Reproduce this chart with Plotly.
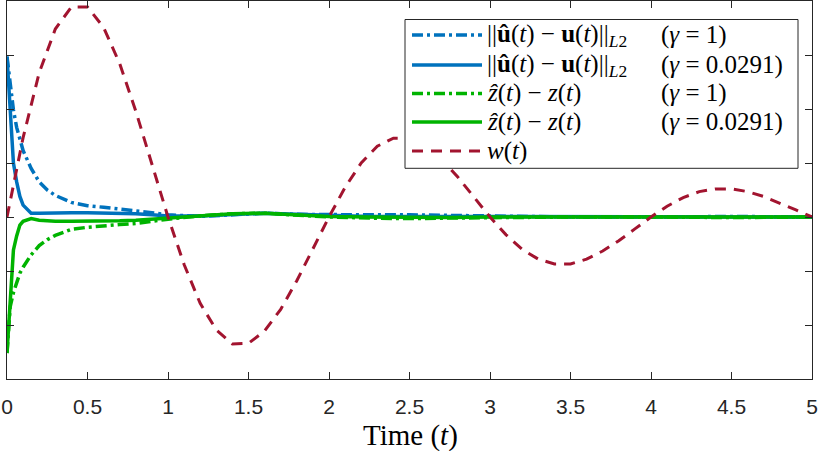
import plotly.graph_objects as go

# sample times for the error curves
t_err = [0, 0.02, 0.04, 0.06, 0.08, 0.1, 0.15, 0.2, 0.25, 0.3, 0.4, 0.5, 0.6, 0.7, 0.8, 0.9,
         1.0, 1.2, 1.4, 1.6, 1.8, 2.0, 2.25, 2.5, 2.75, 3.0, 3.5, 4.0, 4.5, 5.0]

# ||u_hat - u||, gamma = 1 (dash-dot) and gamma = 0.0291 (solid)
u_err_g1 = [2.97, 2.45, 1.98, 1.66, 1.42, 1.23, 0.90, 0.65, 0.50, 0.40, 0.27, 0.21, 0.18, 0.15, 0.12, 0.08,
            0.04, 0.01, 0.04, 0.07, 0.05, 0.04, 0.04, 0.04, 0.03, 0.02, 0.0, 0.0, 0.01, 0.0]
u_err_g0291 = [2.97, 1.98, 1.0, 0.65, 0.38, 0.22, 0.07, 0.07, 0.075, 0.08, 0.08, 0.08, 0.075, 0.07, 0.06, 0.04,
               0.02, 0.02, 0.05, 0.07, 0.05, 0.03, 0.01, 0.01, 0.01, 0.01, 0.0, 0.0, 0.01, 0.0]

# z_hat - z, gamma = 1 (dash-dot) and gamma = 0.0291 (solid)
z_err_g1 = [-2.52, -1.66, -1.40, -1.20, -1.04, -0.93, -0.70, -0.53, -0.42, -0.34, -0.23, -0.19, -0.16, -0.14, -0.12, -0.08,
            -0.04, 0.02, 0.06, 0.07, 0.04, 0.0, -0.02, -0.03, -0.02, -0.01, 0.0, 0.0, -0.01, 0.0]
z_err_g0291 = [-2.52, -1.58, -0.61, -0.35, -0.15, -0.08, -0.03, -0.06, -0.07, -0.08, -0.08, -0.08, -0.08, -0.07, -0.06, -0.04,
               -0.01, 0.03, 0.06, 0.07, 0.04, 0.01, 0.0, -0.01, -0.01, 0.0, 0.0, 0.0, 0.0, 0.0]

# disturbance w(t)
t_w = [0, 0.1, 0.2, 0.3, 0.4, 0.5, 0.6, 0.7, 0.8, 0.9, 1.0, 1.1, 1.2, 1.3, 1.4, 1.5, 1.6, 1.7, 1.8, 1.9,
       2.0, 2.1, 2.2, 2.3, 2.4, 2.5, 2.6, 2.7, 2.8, 2.9, 3.0, 3.1, 3.2, 3.3, 3.4, 3.5, 3.6, 3.7, 3.8, 3.9,
       4.0, 4.1, 4.2, 4.3, 4.4, 4.5, 4.6, 4.7, 4.8, 4.9, 5.0]
w = [0, 1.47, 2.67, 3.48, 3.89, 3.89, 3.51, 2.84, 1.96, 0.98, 0, -0.88, -1.60, -2.09, -2.35, -2.34, -2.11, -1.71, -1.18, -0.59,
     0, 0.55, 1.00, 1.31, 1.46, 1.46, 1.32, 1.07, 0.74, 0.37, 0, -0.33, -0.60, -0.78, -0.87, -0.87, -0.78, -0.63, -0.44, -0.22,
     0, 0.20, 0.36, 0.47, 0.52, 0.52, 0.47, 0.38, 0.26, 0.13, 0]

x_tickvals = [0, 0.5, 1, 1.5, 2, 2.5, 3, 3.5, 4, 4.5, 5]
x_ticktext = ["0", "0.5", "1", "1.5", "2", "2.5", "3", "3.5", "4", "4.5", "5"]

blue = "#0072BD"
green = "#00B300"
red = "#A2142F"
dashdot = "11px,4px,3px,4px"
dashed = "11px,8px"

series = [
    (u_err_g1, t_err, blue, dashdot, 3.5),
    (u_err_g0291, t_err, blue, "solid", 3.5),
    (z_err_g1, t_err, green, dashdot, 3.5),
    (z_err_g0291, t_err, green, "solid", 3.5),
    (w, t_w, red, dashed, 3),
]
norm = "||<b>û</b>(<i>t</i>) − <b>u</b>(<i>t</i>)||<sub><i>L</i>2</sub>"
zdiff = "<i>ẑ</i>(<i>t</i>) − <i>z</i>(<i>t</i>)"
names = [norm, norm, zdiff, zdiff, "<i>w</i>(<i>t</i>)"]
gammas = ["(<i>γ</i> = 1)", "(<i>γ</i> = 0.0291)", "(<i>γ</i> = 1)", "(<i>γ</i> = 0.0291)", ""]

fig = go.Figure()
for (ys, xs, col, dash, lw), nm in zip(series, names):
    fig.add_trace(go.Scatter(x=xs, y=ys, mode="lines", name=nm,
                             line=dict(color=col, dash=dash, width=lw), showlegend=False))

W, H = 822, 451
L, R, T, B = 7, 10, 1, 72


def px(x):
    return (x - L) / (W - L - R)


def py(y):
    return (H - B - y) / (H - T - B)


serif = "Liberation Serif, DejaVu Serif, serif"
shapes = [dict(type="rect", xref="paper", yref="paper", x0=px(405), x1=px(798), y0=py(19.5), y1=py(168.3),
               line=dict(color="#262626", width=1), fillcolor="white", layer="above")]
annotations = []
rows = [35, 65, 93.5, 122, 151]
for i, ((ys, xs, col, dash, lw), nm, g) in enumerate(zip(series, names, gammas)):
    yy = py(rows[i])
    shapes.append(dict(type="line", xref="paper", yref="paper", x0=px(412), x1=px(482), y0=yy, y1=yy,
                       line=dict(color=col, dash=dash, width=lw), layer="above"))
    annotations.append(dict(xref="paper", yref="paper", x=px(485), y=yy, text=nm, showarrow=False,
                            xanchor="left", yanchor="middle", font=dict(family=serif, size=25, color="black")))
    if g:
        annotations.append(dict(xref="paper", yref="paper", x=px(659), y=yy, text=g, showarrow=False,
                                xanchor="left", yanchor="middle", font=dict(family=serif, size=25, color="black")))

annotations.append(dict(xref="paper", yref="paper", x=px(410), y=py(436), text="Time (<i>t</i>)", showarrow=False,
                        xanchor="center", yanchor="middle", font=dict(family=serif, size=29, color="black")))

fig.update_layout(
    width=W, height=H,
    margin=dict(l=L, r=R, t=T, b=B),
    plot_bgcolor="white", paper_bgcolor="white",
    shapes=shapes, annotations=annotations,
    xaxis=dict(range=[0, 5], tickvals=x_tickvals, ticktext=x_ticktext, ticks="inside", ticklen=7,
               tickcolor="#262626", showline=True, linecolor="#262626", linewidth=1, mirror="ticks",
               showgrid=False, zeroline=False, ticklabelstandoff=9,
               tickfont=dict(family="Liberation Sans, Arial, sans-serif", size=21, color="#262626")),
    yaxis=dict(range=[-3, 4], dtick=1, ticks="inside", ticklen=7, tickcolor="#262626",
               showticklabels=False, showline=True, linecolor="#262626", linewidth=1, mirror="ticks",
               showgrid=False, zeroline=False),
)

fig.write_html("out.html", config={"displayModeBar": False},
               post_script="document.body.style.margin='0px';")
